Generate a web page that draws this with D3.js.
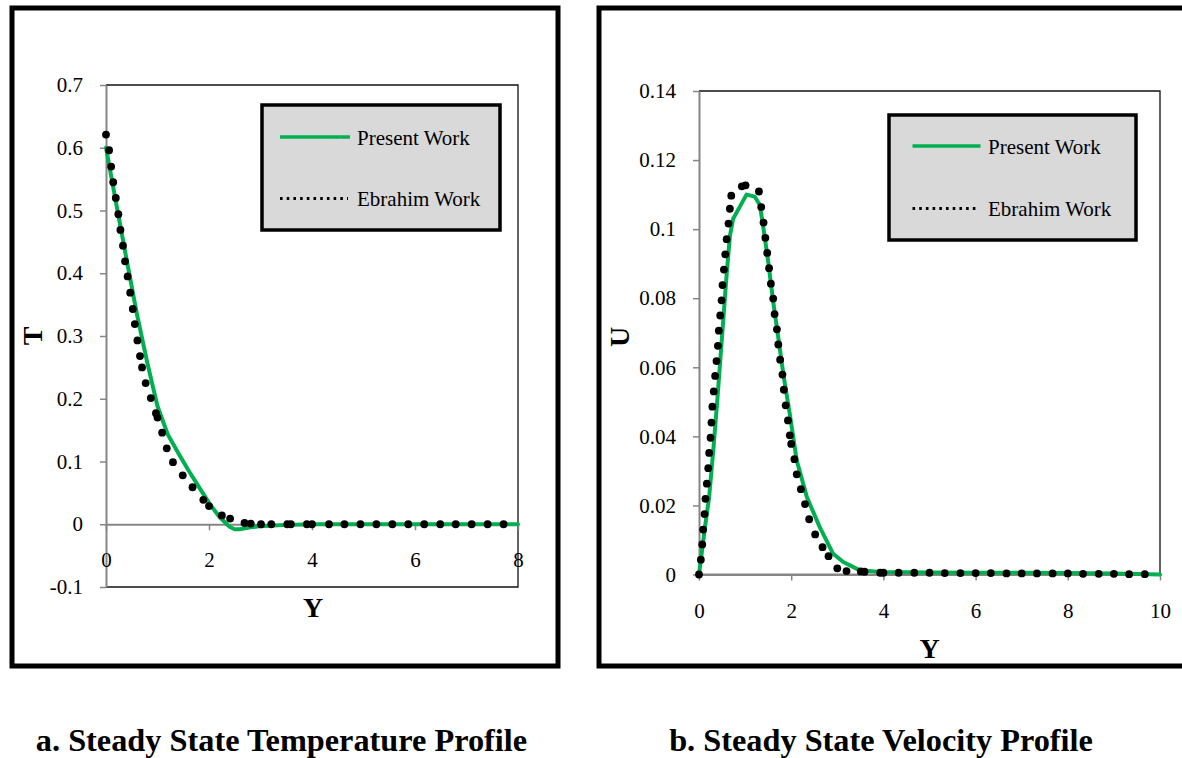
<!DOCTYPE html>
<html><head><meta charset="utf-8">
<script src="https://cdn.jsdelivr.net/npm/d3@7"></script>
<style>body{margin:0;background:#fff} svg{display:block} text{font-family:"Liberation Serif","Times New Roman",serif}</style>
</head><body><svg id="c" width="1182" height="758"></svg>
<script>
// ---------- data ----------
const seriesNames = ["Present Work", "Ebrahim Work"];
const captions = ["a. Steady State Temperature Profile", "b. Steady State Velocity Profile"];

const tempPresentY = [0, 0.2, 0.4, 0.6, 0.8, 1.0, 1.2, 1.4, 1.6, 1.8, 2.0, 2.2, 2.4, 2.5, 2.6, 2.8, 3.0, 3.5, 4, 5, 6, 7, 8];
const tempPresentT = [0.600, 0.510, 0.422, 0.335, 0.258, 0.188, 0.143, 0.114, 0.086, 0.060, 0.034, 0.012, -0.004, -0.008, -0.008, -0.005, -0.003, -0.001, 0, 0, 0, 0, 0];

const tempEbrahimY = [0, 0.06, 0.10, 0.14, 0.19, 0.24, 0.28, 0.33, 0.37, 0.42, 0.47, 0.52, 0.56, 0.61, 0.66, 0.70, 0.77, 0.87, 0.97, 1.00, 1.09, 1.18, 1.30, 1.49, 1.68, 1.89, 2.00, 2.25, 2.41, 2.69, 2.81, 3.01, 3.21, 3.52, 3.59, 3.90, 4.00, 4.33, 4.63, 4.94, 5.25, 5.56, 5.87, 6.18, 6.49, 6.79, 7.10, 7.41, 7.72];
const tempEbrahimT = [0.621, 0.596, 0.570, 0.545, 0.520, 0.494, 0.469, 0.444, 0.419, 0.395, 0.369, 0.343, 0.319, 0.293, 0.268, 0.250, 0.225, 0.201, 0.177, 0.170, 0.146, 0.121, 0.099, 0.078, 0.059, 0.039, 0.029, 0.014, 0.009, 0.002, 0.001, 0, 0, 0, 0, 0, 0, 0, 0, 0, 0, 0, 0, 0, 0, 0, 0, 0, 0];

const velPresentY = [0, 0.13, 0.22, 0.31, 0.40, 0.50, 0.60, 0.67, 0.74, 0.89, 1.03, 1.21, 1.32, 1.39, 1.50, 1.61, 1.72, 1.83, 1.97, 2.12, 2.34, 2.62, 2.91, 3.13, 3.49, 3.93, 5, 6, 7, 8, 9, 10];
const velPresentU = [0, 0.0137, 0.0224, 0.036, 0.051, 0.069, 0.087, 0.098, 0.103, 0.1066, 0.110, 0.1094, 0.107, 0.101, 0.0907, 0.079, 0.0686, 0.058, 0.0464, 0.033, 0.0224, 0.0137, 0.006, 0.0036, 0.0012, 0.0007, 0.0006, 0.0005, 0.0005, 0.0004, 0.0003, 0];

const velEbrahimY = [0, 0.04, 0.07, 0.09, 0.12, 0.14, 0.17, 0.20, 0.22, 0.25, 0.27, 0.29, 0.32, 0.35, 0.38, 0.41, 0.43, 0.46, 0.49, 0.51, 0.54, 0.57, 0.60, 0.64, 0.67, 0.70, 0.93, 1.01, 1.30, 1.35, 1.40, 1.44, 1.48, 1.52, 1.56, 1.61, 1.64, 1.69, 1.72, 1.76, 1.81, 1.84, 1.88, 1.93, 1.97, 2.00, 2.07, 2.12, 2.21, 2.30, 2.39, 2.52, 2.68, 2.81, 3.00, 3.20, 3.51, 3.59, 3.93, 4.00, 4.33, 4.67, 5.00, 5.33, 5.67, 6.00, 6.33, 6.67, 7.00, 7.33, 7.67, 8.00, 8.33, 8.67, 9.00, 9.33, 9.67];
const velEbrahimU = [0, 0.0043, 0.0087, 0.013, 0.0175, 0.0219, 0.0263, 0.0308, 0.0352, 0.0396, 0.044, 0.0486, 0.053, 0.0575, 0.0618, 0.0662, 0.0706, 0.075, 0.0794, 0.0838, 0.0883, 0.0927, 0.0971, 0.1016, 0.1059, 0.1097, 0.1124, 0.1127, 0.1109, 0.1064, 0.1019, 0.0975, 0.0931, 0.0887, 0.0842, 0.0799, 0.0754, 0.071, 0.0666, 0.0622, 0.0579, 0.0535, 0.049, 0.0446, 0.0403, 0.0378, 0.0334, 0.029, 0.0247, 0.0204, 0.016, 0.0116, 0.0079, 0.0053, 0.0018, 0.001, 0.0009, 0.0008, 0.0005, 0.0005, 0.0005, 0.0005, 0.0005, 0.0004, 0.0004, 0.0004, 0.0004, 0.0003, 0.0003, 0.0003, 0.0003, 0.0003, 0.0002, 0.0002, 0.0002, 0.0001, 0.0001];

const tempXTicks = [0, 2, 4, 6, 8];
const tempXLabels = ["0", "2", "4", "6", "8"];
const tempYTicks = [-0.1, 0, 0.1, 0.2, 0.3, 0.4, 0.5, 0.6, 0.7];
const tempYLabels = ["-0.1", "0", "0.1", "0.2", "0.3", "0.4", "0.5", "0.6", "0.7"];
const velXTicks = [0, 2, 4, 6, 8, 10];
const velXLabels = ["0", "2", "4", "6", "8", "10"];
const velYTicks = [0, 0.02, 0.04, 0.06, 0.08, 0.1, 0.12, 0.14];
const velYLabels = ["0", "0.02", "0.04", "0.06", "0.08", "0.1", "0.12", "0.14"];
const xTitles = ["Y", "Y"];
const yTitles = ["T", "U"];

// ---------- drawing ----------
const svg = d3.select("#c");
svg.append("rect").attr("width", 1182).attr("height", 758).attr("fill", "#fff");

const GREEN = "#00b050", AXIS = "#868686";

function drawChart(o) {
  const g = svg.append("g");
  g.append("rect").attr("x", o.frame[0]).attr("y", o.frame[1]).attr("width", o.frame[2]).attr("height", o.frame[3])
    .attr("fill", "none").attr("stroke", "#000").attr("stroke-width", 5);

  const x = d3.scaleLinear().domain(o.xDomain).range(o.xRange);
  const y = d3.scaleLinear().domain(o.yDomain).range(o.yRange);

  const [x0, x1] = o.xRange, [yb, yt] = o.yRange;
  g.append("path").attr("d", `M${x0},${yt}H${x1}V${yb}H${x0}`)
    .attr("fill", "none").attr("stroke", "#111").attr("stroke-width", 1.3);

  const ya = g.append("g").attr("transform", `translate(${x0},0)`)
    .call(d3.axisLeft(y).tickValues(o.yTicks).tickFormat((d, i) => o.yLabels[i]).tickSizeInner(6).tickSizeOuter(0).tickPadding(17));
  const xa = g.append("g").attr("transform", `translate(0,${y(0)})`)
    .call(d3.axisBottom(x).tickValues(o.xTicks).tickFormat((d, i) => o.xLabels[i]).tickSizeInner(6).tickSizeOuter(0).tickPadding(o.xPad));
  [ya, xa].forEach(a => {
    a.attr("font-family", null).attr("font-size", null);
    a.select(".domain").attr("stroke", AXIS).attr("stroke-width", 2);
    a.selectAll(".tick line").attr("stroke", AXIS).attr("stroke-width", 1.5);
    a.selectAll(".tick text").attr("fill", "#000").style("font-size", "21px")
      .style("font-family", '"Liberation Serif","Times New Roman",serif');
  });

  const line = d3.line().x(d => x(d[0])).y(d => y(d[1]));
  g.append("path").datum(o.presentX.map((v, i) => [v, o.presentY[i]]))
    .attr("d", line).attr("fill", "none").attr("stroke", GREEN).attr("stroke-width", 4)
    .attr("stroke-linejoin", "round").attr("stroke-linecap", "round");

  g.append("g").selectAll("circle").data(o.ebrX.map((v, i) => [v, o.ebrY[i]])).join("circle")
    .attr("cx", d => x(d[0])).attr("cy", d => y(d[1])).attr("r", 3.9).attr("fill", "#000");

  const L = o.legend;
  g.append("rect").attr("x", L.box[0]).attr("y", L.box[1]).attr("width", L.box[2]).attr("height", L.box[3])
    .attr("fill", "#d9d9d9").attr("stroke", "#000").attr("stroke-width", 3.5);
  g.append("line").attr("x1", L.lx0).attr("x2", L.lx1).attr("y1", L.y1).attr("y2", L.y1)
    .attr("stroke", GREEN).attr("stroke-width", 3.5);
  g.append("line").attr("x1", L.lx0).attr("x2", L.lx1 - 2).attr("y1", L.y2).attr("y2", L.y2)
    .attr("stroke", "#000").attr("stroke-width", 3).attr("stroke-dasharray", "2.6 4.1");
  [[L.y1 + 8, seriesNames[0]], [L.y2 + 7, seriesNames[1]]].forEach(([yy, t]) => {
    g.append("text").attr("x", L.tx).attr("y", yy).attr("font-size", 21).attr("fill", "#000").text(t);
  });

  g.append("text").attr("x", o.xTitle[0]).attr("y", o.xTitle[1]).attr("text-anchor", "middle")
    .attr("dominant-baseline", "central").attr("font-size", 28).attr("font-weight", "bold").text(o.xTitleText);
  g.append("text").attr("transform", `translate(${o.yTitle[0]},${o.yTitle[1]}) rotate(-90)`).attr("text-anchor", "middle")
    .attr("dominant-baseline", "central").attr("font-size", 28).attr("font-weight", "bold").text(o.yTitleText);

  g.append("text").attr("x", o.caption[0]).attr("y", o.caption[1]).attr("text-anchor", "middle")
    .attr("font-size", 32.3).attr("font-weight", "bold").attr("fill", "#000").text(o.captionText);
}

drawChart({
  frame: [12, 8, 546, 658],
  xDomain: [0, 8], xRange: [106, 518],
  yDomain: [-0.1, 0.7], yRange: [587, 85],
  xTicks: tempXTicks, xLabels: tempXLabels, yTicks: tempYTicks, yLabels: tempYLabels, xPad: 22,
  presentX: tempPresentY, presentY: tempPresentT, ebrX: tempEbrahimY, ebrY: tempEbrahimT,
  legend: { box: [262, 105, 238, 125], lx0: 280, lx1: 350, y1: 137, y2: 198.5, tx: 357 },
  xTitle: [313, 607], yTitle: [32, 336], xTitleText: xTitles[0], yTitleText: yTitles[0],
  caption: [281.5, 751], captionText: captions[0]
});

drawChart({
  frame: [599, 8, 600, 658],
  xDomain: [0, 10], xRange: [699, 1160],
  yDomain: [0, 0.14], yRange: [574.5, 91],
  xTicks: velXTicks, xLabels: velXLabels, yTicks: velYTicks, yLabels: velYLabels, xPad: 23,
  presentX: velPresentY, presentY: velPresentU, ebrX: velEbrahimY, ebrY: velEbrahimU,
  legend: { box: [889, 115, 247, 125], lx0: 912.5, lx1: 980.5, y1: 146, y2: 208.5, tx: 988 },
  xTitle: [929.5, 648], yTitle: [619, 337], xTitleText: xTitles[1], yTitleText: yTitles[1],
  caption: [881, 751], captionText: captions[1]
});
</script></body></html>
